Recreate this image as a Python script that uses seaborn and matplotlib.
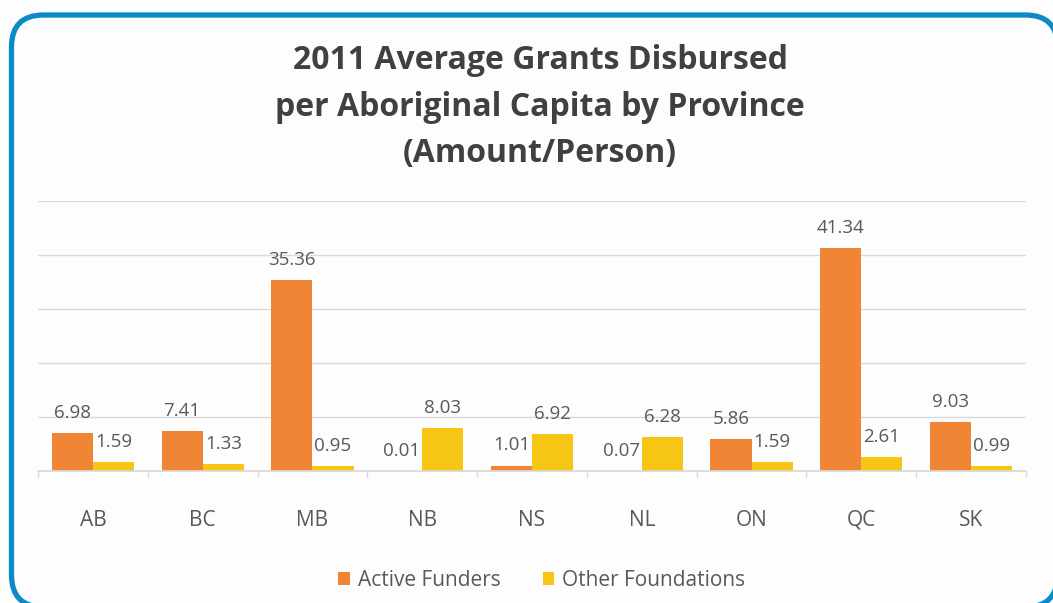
import matplotlib
matplotlib.use("Agg")
import matplotlib.pyplot as plt
import seaborn as sns
import pandas as pd
from matplotlib.patches import FancyBboxPatch

provinces = ["AB", "BC", "MB", "NB", "NS", "NL", "ON", "QC", "SK"]
active_funders = [6.98, 7.41, 35.36, 0.01, 1.01, 0.07, 5.86, 41.34, 9.03]
other_foundations = [1.59, 1.33, 0.95, 8.03, 6.92, 6.28, 1.59, 2.61, 0.99]
series_names = ["Active Funders", "Other Foundations"]

df = pd.DataFrame({
    "Province": provinces * 2,
    "Value": active_funders + other_foundations,
    "Series": [series_names[0]] * len(provinces) + [series_names[1]] * len(provinces),
})

sns.set_theme(style="white")
plt.rcParams["font.family"] = ["Open Sans", "DejaVu Sans"]

W, H = 1053, 603
fig = plt.figure(figsize=(W / 100, H / 100), dpi=100)
fig.patch.set_facecolor("#fdfdfd")

# background frame with the rounded blue border
bg = fig.add_axes([0, 0, 1, 1], zorder=0)
bg.set_xlim(0, W)
bg.set_ylim(0, H)
bg.axis("off")
r = 32
frame = FancyBboxPatch((11.5 + r, -4 + r), 1046 - 2 * r, 592 - 2 * r,
                       boxstyle=f"round,pad={r}", linewidth=3.8,
                       edgecolor="#0a8ac6", facecolor="#fdfdfd")
bg.add_patch(frame)

ax = fig.add_axes([38 / W, 132 / H, 988 / W, 270 / H], zorder=1)
ax.patch.set_alpha(0)

palette = ["#f08536", "#f7c614"]
sns.barplot(data=df, x="Province", y="Value", hue="Series", palette=palette,
            width=0.75, saturation=1, linewidth=0, ax=ax, legend=True)

for cont in ax.containers:
    ax.bar_label(cont, fmt="%.2f", padding=8, fontsize=13.5, color="#595959")

ax.set_ylim(0, 50)
ax.set_yticks([10, 20, 30, 40, 50])
ax.yaxis.grid(True, color="#d9d9d9", linewidth=1)
ax.set_axisbelow(True)
ax.tick_params(axis="y", left=False, labelleft=False)
ax.tick_params(axis="x", bottom=False, labelsize=15, labelcolor="#595959", pad=22)
for s in ["top", "right", "left"]:
    ax.spines[s].set_visible(False)
ax.spines["bottom"].set_color("#d9d9d9")
ax.set_xlim(-0.5, len(provinces) - 0.5)
for b in range(len(provinces) + 1):
    ax.plot([b - 0.5, b - 0.5], [0, -1.2], color="#d9d9d9", lw=1, clip_on=False)
ax.set_xlabel("")
ax.set_ylabel("")

leg = ax.legend(loc="center", bbox_to_anchor=(0.51, -0.405), ncol=2, frameon=False,
                fontsize=15, handlelength=0.55, handleheight=0.55, handletextpad=0.4,
                columnspacing=2.0)
for t in leg.get_texts():
    t.set_color("#595959")

fig.text(0.513, (603 - 107) / H,
         "2011 Average Grants Disbursed\nper Aboriginal Capita by Province\n(Amount/Person)",
         ha="center", va="center", fontsize=23, fontweight="bold", color="#404040",
         linespacing=1.55)

fig.savefig("out.png", dpi=100, facecolor=fig.get_facecolor())
